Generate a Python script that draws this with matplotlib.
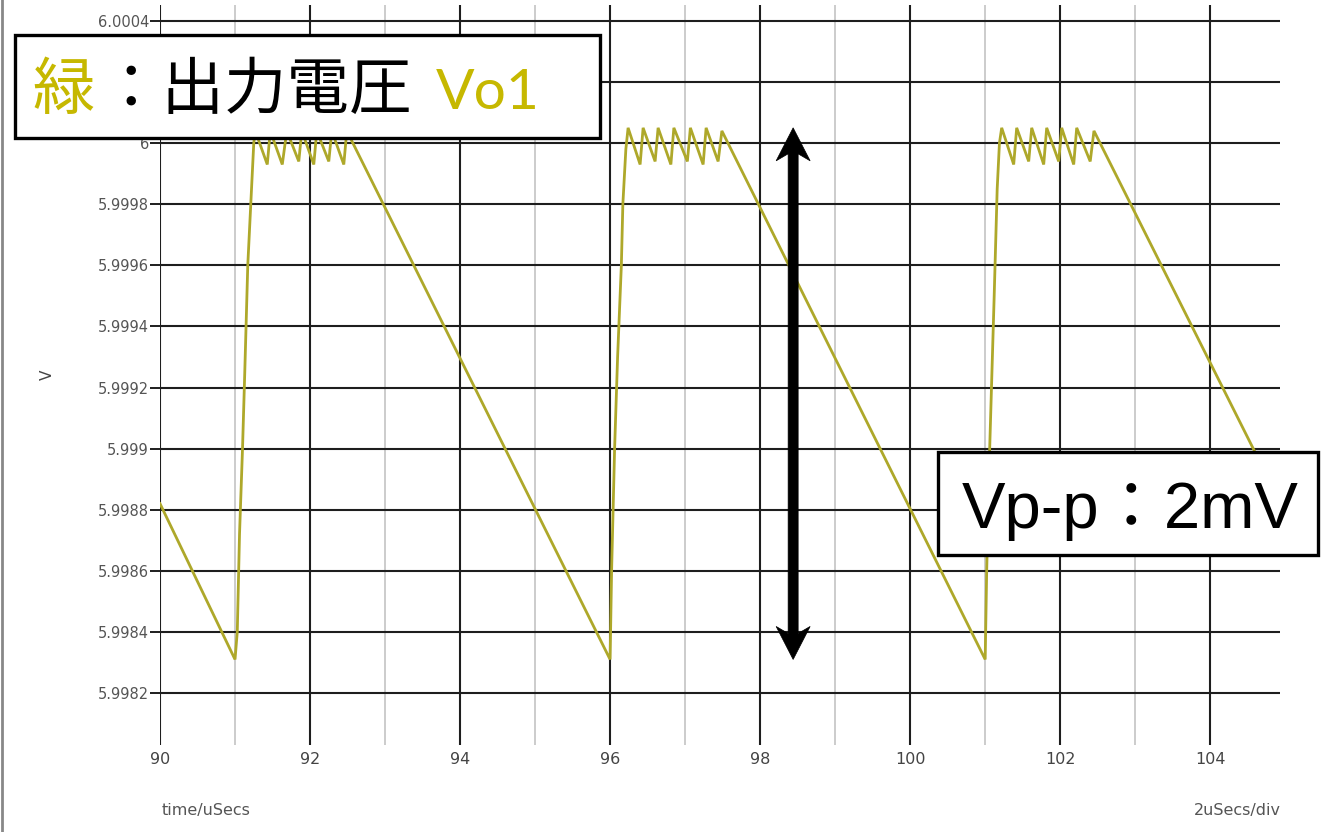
import matplotlib
matplotlib.use("Agg")
import matplotlib.pyplot as plt
from matplotlib.patches import Rectangle, Polygon
from matplotlib.lines import Line2D
from matplotlib.transforms import IdentityTransform

# Output voltage Vo1 of the converter: time in microseconds, voltage in volts
time_us = [
    90.00, 91.00, 91.03, 91.06, 91.10, 91.13, 91.17, 91.22, 91.25,
    91.27, 91.43, 91.47, 91.63, 91.69, 91.85, 91.89, 92.05, 92.09, 92.25,
    92.29, 92.45, 92.49,
    96.00, 96.02, 96.06, 96.10, 96.15, 96.17, 96.21,
    96.24, 96.40, 96.44, 96.60, 96.64, 96.81, 96.85, 97.03, 97.07, 97.24,
    97.28, 97.44, 97.49,
    101.00, 101.02, 101.06, 101.12, 101.16, 101.19,
    101.22, 101.38, 101.42, 101.58, 101.62, 101.78, 101.82, 101.98, 102.02,
    102.18, 102.22, 102.40, 102.45,
    104.90,
]
vo1 = [
    5.99882, 5.99831, 5.99840, 5.99872, 5.99900, 5.99925, 5.99960, 5.99985, 6.00000,
    6.00004, 5.99993, 6.00004, 5.99993, 6.00004, 5.99994, 6.00004, 5.99993, 6.00004, 5.99994,
    6.00004, 5.99993, 6.00004,
    5.99831, 5.99860, 5.99900, 5.99930, 5.99960, 5.99980, 5.99998,
    6.00005, 5.99993, 6.00005, 5.99994, 6.00005, 5.99993, 6.00005, 5.99994, 6.00005, 5.99993,
    6.00005, 5.99994, 6.00004,
    5.99831, 5.99860, 5.99900, 5.99950, 5.99985, 6.00000,
    6.00005, 5.99993, 6.00005, 5.99994, 6.00005, 5.99993, 6.00005, 5.99994, 6.00005,
    5.99993, 6.00005, 5.99994, 6.00004,
    5.99884,
]

x_major = [90, 92, 94, 96, 98, 100, 102, 104]
x_major_labels = ["90", "92", "94", "96", "98", "100", "102", "104"]
x_minor = [91, 93, 95, 97, 99, 101, 103]
y_ticks = [6.0004, 6.0002, 6.0, 5.9998, 5.9996, 5.9994, 5.9992,
           5.999, 5.9988, 5.9986, 5.9984, 5.9982]
# the 6.0002 label sits under the title box, so it is left blank
y_tick_labels = ["6.0004", "", "6", "5.9998", "5.9996", "5.9994", "5.9992",
                 "5.999", "5.9988", "5.9986", "5.9984", "5.9982"]

arrow_time = 98.44

W, H = 1325, 832
fig = plt.figure(figsize=(W / 100, H / 100), dpi=100)
fig.patch.set_facecolor("white")


def fx(px):
    return px / W


def fy(py):
    return 1 - py / H


ax = fig.add_axes([fx(160), fy(745), fx(1280) - fx(160), fy(5) - fy(745)])
ax.set_xlim(90, 104.93)
ax.set_ylim(5.99803, 6.000452)
for s in ax.spines.values():
    s.set_visible(False)

# grid
for x in x_minor:
    ax.axvline(x, color="#c4c4c4", lw=1.2, zorder=1)
for x in x_major:
    ax.axvline(x, color="#1e1e1e", lw=1.5, zorder=1.5)
for y in y_ticks:
    ax.axhline(y, color="#1e1e1e", lw=1.5, zorder=1.5)

ax.set_xticks(x_major)
ax.set_xticklabels(x_major_labels)
ax.set_yticks(y_ticks)
ax.set_yticklabels(y_tick_labels)
ax.tick_params(axis="x", length=0, pad=5, labelsize=11.5, labelcolor="#444444")
ax.tick_params(axis="y", length=7, width=1.4, color="#1e1e1e", pad=1,
               labelsize=10.5, labelcolor="#555555")

# waveform
ax.plot(time_us, vo1, color="#aea82a", lw=2.0, zorder=3, solid_joinstyle="miter")

# labels
fig.text(fx(162), fy(810), "time/uSecs", fontsize=11.5, color="#555555",
         ha="left", va="center")
fig.text(fx(1281), fy(810), "2uSecs/div", fontsize=11.5, color="#555555",
         ha="right", va="center")
fig.text(fx(47), fy(375), "V", fontsize=11, color="#444444", rotation=90,
         ha="center", va="center")

# left frame line
fig.add_artist(Line2D([fx(1.5), fx(1.5)], [0, 1], color="#888888", lw=2,
                      transform=fig.transFigure))

# double-headed arrow spanning the ripple peak-to-peak
fig.canvas.draw()
v_top = max(vo1)
v_bot = min(vo1)
(xa, yt) = ax.transData.transform((arrow_time, v_top))
(_, yb) = ax.transData.transform((arrow_time, v_bot))
sw, hw, hd, nd = 5, 17, 33, 26
verts = [
    (xa, yt), (xa + hw, yt - hd), (xa + sw, yt - nd),
    (xa + sw, yb + nd), (xa + hw, yb + hd), (xa, yb),
    (xa - hw, yb + hd), (xa - sw, yb + nd),
    (xa - sw, yt - nd), (xa - hw, yt - hd),
]
fig.add_artist(Polygon(verts, closed=True, facecolor="black", edgecolor="black",
                       lw=0.5, transform=IdentityTransform(), zorder=5))

# annotation boxes
box_lw = 2.4
fig.add_artist(Rectangle((fx(15), fy(138)), fx(600) - fx(15), fy(35) - fy(138),
                         transform=fig.transFigure, facecolor="white",
                         edgecolor="black", lw=box_lw, zorder=6))
fig.add_artist(Rectangle((fx(938), fy(555)), fx(1318) - fx(938), fy(452) - fy(555),
                         transform=fig.transFigure, facecolor="white",
                         edgecolor="black", lw=box_lw, zorder=6))

gold = "#c6b800"
cjk = ["Noto Sans CJK JP", "DejaVu Sans"]
base1 = fy(109)
fig.text(fx(32), base1, "緑", fontsize=45, color=gold, family=cjk,
         ha="left", va="baseline", zorder=7)
fig.text(fx(100), base1, "：出力電圧", fontsize=45, color="black", family=cjk,
         ha="left", va="baseline", zorder=7)
fig.text(fx(436), base1, "Vo1", fontsize=41, color=gold, family=["Lato", "DejaVu Sans"],
         ha="left", va="baseline", zorder=7)

fig.text(fx(962), fy(528), "Vp-p：2mV", fontsize=47, color="black",
         family=["Liberation Sans", "Noto Sans CJK JP"],
         ha="left", va="baseline", zorder=7)

fig.savefig("out.png", dpi=100, facecolor="white")
